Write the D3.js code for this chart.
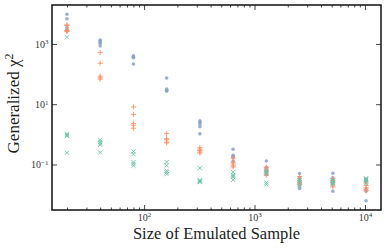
<!DOCTYPE html>
<html><head><meta charset="utf-8">
<script src="https://cdn.jsdelivr.net/npm/d3@7"></script>
<style>body{margin:0;background:#fff} text{font-family:"Liberation Serif","DejaVu Serif",serif}</style>
</head><body><svg id="c" width="388" height="249"></svg>
<script>
const sampleSizes = [20,40,80,160,320,640,1280,2560,5120,10240];
const blueDots = [
  [9600,6800,3500,3000,2700],
  [1350,1250,1150,1050,860],
  [400,375,360,350,215],
  [74,32,29,28,27.5],
  [2.8,2.5,2.2,1.8,1.04],
  [0.32,0.20,0.185,0.175,0.129],
  [0.13,0.081,0.066,0.059,0.046],
  [0.05,0.036,0.028,0.02,0.016],
  [0.051,0.036,0.03,0.025,0.013],
  [0.031,0.028,0.015,0.013,0.0063]
];
const orangePlus = [
  [4300,4100,2800,2700,2600],
  [516,229,85,75,68],
  [8.1,4.6,2.3,2.0,1.6],
  [1.07,0.72,0.66,0.55,0.52],
  [0.36,0.32,0.29,0.26,0.24],
  [0.162,0.12,0.105,0.09,0.083],
  [0.081,0.07,0.06,0.052,0.045],
  [0.04,0.033,0.026,0.024,0.022],
  [0.034,0.029,0.025,0.021,0.018],
  [0.024,0.02,0.017,0.015,0.0135]
];
const greenX = [
  [1660,1.05,0.95,0.88,0.245],
  [0.65,0.56,0.5,0.45,0.25],
  [0.27,0.22,0.12,0.105,0.091],
  [0.12,0.093,0.062,0.055,0.048],
  [0.076,0.03,0.029,0.027,0.026],
  [0.056,0.046,0.042,0.038,0.031],
  [0.063,0.055,0.05,0.025,0.022],
  [0.034,0.03,0.026,0.022,0.019],
  [0.031,0.029,0.027,0.024,0.022],
  [0.035,0.033,0.031,0.029,0.024]
];
const xMajorTicks = [100,1000,10000];
const yMajorTicks = [0.1,10,1000];
const xLabel = "Size of Emulated Sample";

const W=388,H=249, L=52, R=381, T=5, B=210;
const svg=d3.select("#c");

function flat(arr){const o=[];arr.forEach((vs,i)=>vs.forEach(v=>o.push({x:sampleSizes[i],y:v})));return o;}
const blue=flat(blueDots), orange=flat(orangePlus), green=flat(greenX);
const all=blue.concat(orange,green);

function padLog(ext){const a=Math.log10(ext[0]),b=Math.log10(ext[1]),p=0.05*(b-a);return [Math.pow(10,a-p),Math.pow(10,b+p)];}
const x=d3.scaleLog().domain(padLog(d3.extent(all,d=>d.x))).range([L,R]);
const y=d3.scaleLog().domain(padLog(d3.extent(all,d=>d.y))).range([B,T]);

const xMinor=[];
for(let e=1;e<=4;e++){for(let k=2;k<=9;k++){const v=k*Math.pow(10,e);if(v>=x.domain()[0]&&v<=x.domain()[1])xMinor.push(v);}}

function supLabel(sel){
  sel.each(function(d){
    const t=d3.select(this); t.text("");
    const e=Math.round(Math.log10(d));
    t.append("tspan").text("10");
    t.append("tspan").attr("dy","-0.45em").attr("font-size","0.7em").text(e<0?"\u2212"+(-e):String(e));
  });
}

const gx=svg.append("g").attr("transform",`translate(0,${B})`)
  .call(d3.axisBottom(x).tickValues(xMajorTicks).tickSizeInner(-5).tickSizeOuter(0).tickPadding(3.5));
gx.select(".domain").remove();
gx.selectAll("text").attr("font-size",10).attr("fill","#333").call(supLabel);
const gxm=svg.append("g").attr("transform",`translate(0,${B})`)
  .call(d3.axisBottom(x).tickValues(xMinor).tickSizeInner(-2.5).tickSizeOuter(0).tickFormat(""));
gxm.select(".domain").remove();
const gxt=svg.append("g").attr("transform",`translate(0,${T})`)
  .call(d3.axisTop(x).tickValues(xMajorTicks).tickSizeInner(-5).tickSizeOuter(0).tickFormat(""));
gxt.select(".domain").remove();
const gxtm=svg.append("g").attr("transform",`translate(0,${T})`)
  .call(d3.axisTop(x).tickValues(xMinor).tickSizeInner(-2.5).tickSizeOuter(0).tickFormat(""));
gxtm.select(".domain").remove();

const gy=svg.append("g").attr("transform",`translate(${L},0)`)
  .call(d3.axisLeft(y).tickValues(yMajorTicks).tickSizeInner(-5).tickSizeOuter(0).tickPadding(3.5));
gy.select(".domain").remove();
gy.selectAll("text").attr("font-size",10).attr("fill","#333").call(supLabel);
const gyr=svg.append("g").attr("transform",`translate(${R},0)`)
  .call(d3.axisRight(y).tickValues(yMajorTicks).tickSizeInner(-5).tickSizeOuter(0).tickFormat(""));
gyr.select(".domain").remove();
svg.selectAll(".tick line").attr("stroke","#444").attr("stroke-width",1);

const gm=svg.append("g");
gm.selectAll("circle.b").data(blue).join("circle").attr("class","b")
  .attr("cx",d=>x(d.x)).attr("cy",d=>y(d.y)).attr("r",1.8).attr("fill","#8da0cb").attr("opacity",0.85);
const s=2.6;
gm.selectAll("path.o").data(orange).join("path").attr("class","o")
  .attr("d",d=>{const cx=x(d.x),cy=y(d.y);return `M${cx-s},${cy}H${cx+s}M${cx},${cy-s}V${cy+s}`;})
  .attr("stroke","#fc8d62").attr("stroke-width",1).attr("fill","none").attr("opacity",0.85);
const q=2.1;
gm.selectAll("path.g").data(green).join("path").attr("class","g")
  .attr("d",d=>{const cx=x(d.x),cy=y(d.y);return `M${cx-q},${cy-q}L${cx+q},${cy+q}M${cx-q},${cy+q}L${cx+q},${cy-q}`;})
  .attr("stroke","#66c2a5").attr("stroke-width",1).attr("fill","none").attr("opacity",0.85);

svg.append("rect").attr("x",L).attr("y",T).attr("width",R-L).attr("height",B-T)
  .attr("fill","none").attr("stroke","#111").attr("stroke-width",1.5);

svg.append("text").attr("x",(L+R)/2).attr("y",239).attr("text-anchor","middle")
  .attr("font-size",16.5).attr("fill","#222").text(xLabel);
const yl=svg.append("text").attr("transform",`translate(19,${(T+B)/2-4}) rotate(-90)`)
  .attr("text-anchor","middle").attr("font-size",17).attr("fill","#222");
yl.append("tspan").text("Generalized  \u03C7");
yl.append("tspan").attr("dy","-0.5em").attr("font-size","0.7em").text("2");
</script></body></html>
